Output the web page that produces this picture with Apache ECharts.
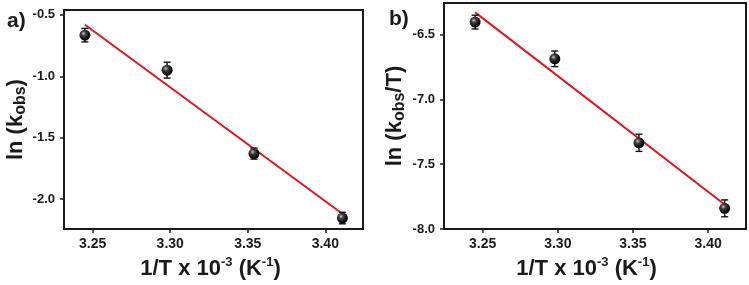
<!DOCTYPE html>
<html>
<head>
<meta charset="utf-8">
<script src="https://cdn.jsdelivr.net/npm/echarts@6/dist/echarts.min.js"></script>
<style>
html, body { margin: 0; padding: 0; background: #fff; }
#chart { width: 749px; height: 285px; }
</style>
</head>
<body>
<div id="chart"></div>
<script>
// 1/T x 10^-3 for the four temperatures
var invT = [3.245, 3.298, 3.354, 3.411];
// panel a: ln(kobs) with error
var lnK = [-0.665, -0.95, -1.63, -2.155];
var lnKErr = [0.055, 0.065, 0.045, 0.047];
// panel b: ln(kobs/T) with error
var lnKT = [-6.405, -6.688, -7.335, -7.84];
var lnKTErr = [0.053, 0.06, 0.066, 0.065];
// fitted lines (end points)
var fitA = [[3.245, -0.58], [3.411, -2.12]];
var fitB = [[3.245, -6.33], [3.411, -7.81]];
// tick labels
var xTicks = [3.25, 3.30, 3.35, 3.40];
var yTicksA = [-2.0, -1.5, -1.0, -0.5];
var yTicksB = [-8.0, -7.5, -7.0, -6.5];

var FONT = "'Liberation Sans', Arial, sans-serif";
var INK = '#1a1a1a';

function points(ys) {
    return invT.map(function(x, i) { return [x, ys[i]]; });
}
function bars(ys, errs) {
    return invT.map(function(x, i) { return [x, ys[i] - errs[i], ys[i] + errs[i]]; });
}

function renderErr(params, api) {
    var x = api.value(0);
    var top = api.coord([x, api.value(2)]);
    var bot = api.coord([x, api.value(1)]);
    var w = 3.5;
    var s = {stroke: '#111', lineWidth: 1.4};
    return {
        type: 'group',
        children: [
            {type: 'line', shape: {x1: top[0], y1: top[1], x2: bot[0], y2: bot[1]}, style: s},
            {type: 'line', shape: {x1: top[0] - w, y1: top[1], x2: top[0] + w, y2: top[1]}, style: s},
            {type: 'line', shape: {x1: bot[0] - w, y1: bot[1], x2: bot[0] + w, y2: bot[1]}, style: s}
        ]
    };
}

var ball = new echarts.graphic.RadialGradient(0.38, 0.35, 0.6, [
    {offset: 0, color: '#c8c8c8'},
    {offset: 0.35, color: '#404040'},
    {offset: 1, color: '#000'}
]);

var rich = {
    m: {fontSize: 22, fontWeight: 'bold', fontFamily: FONT, color: INK, lineHeight: 26},
    s: {fontSize: 13, fontWeight: 'bold', fontFamily: FONT, color: INK, verticalAlign: 'top', lineHeight: 13},
    b: {fontSize: 16, fontWeight: 'bold', fontFamily: FONT, color: INK, verticalAlign: 'bottom', lineHeight: 16}
};
var xName = '{m|1/T x 10}{s|-3}{m| (K}{s|-1}{m|)}';

function xAxis(idx, min, max, gap, pad) {
    return {
        type: 'value', gridIndex: idx, min: min, max: max,
        name: xName, nameLocation: 'middle', nameGap: gap,
        nameTextStyle: {rich: rich, padding: pad},
        splitLine: {show: false},
        axisLine: {lineStyle: {color: INK, width: 2}},
        axisTick: {customValues: xTicks, length: 4, lineStyle: {color: INK, width: 1.5}},
        axisLabel: {
            customValues: xTicks, margin: 8, color: INK, fontSize: 14, fontWeight: 'bold', fontFamily: FONT,
            formatter: function(v) { return v.toFixed(2); }
        }
    };
}
function yAxis(idx, min, max, ticks, name, gap) {
    return {
        type: 'value', gridIndex: idx, min: min, max: max,
        name: name, nameLocation: 'middle', nameGap: gap, nameRotate: 90,
        nameTextStyle: {rich: rich},
        splitLine: {show: false},
        axisLine: {lineStyle: {color: INK, width: 2}},
        axisTick: {customValues: ticks, length: 4, lineStyle: {color: INK, width: 1.5}},
        axisLabel: {
            customValues: ticks, margin: 9, color: INK, fontSize: 13, fontWeight: 'bold', fontFamily: FONT,
            formatter: function(v) { return v.toFixed(1); }
        }
    };
}

var chart = echarts.init(document.getElementById('chart'));
var chartOptions = {
    animation: false,
    title: [
        {text: 'a)', left: 2, top: 6, textStyle: {fontSize: 21, fontWeight: 'bold', fontFamily: FONT, color: INK}},
        {text: 'b)', left: 384, top: 4, textStyle: {fontSize: 21, fontWeight: 'bold', fontFamily: FONT, color: INK}}
    ],
    grid: [
        {left: 64, top: 10, width: 299, height: 226, show: true, borderColor: INK, borderWidth: 2},
        {left: 444, top: 3, width: 302, height: 229, show: true, borderColor: INK, borderWidth: 2}
    ],
    xAxis: [
        xAxis(0, 3.2315, 3.4243, 21, [0, 6, 0, 0]),
        xAxis(1, 3.2243, 3.4252, 23, [0, 17, 0, 0])
    ],
    yAxis: [
        yAxis(0, -2.245, -0.46, yTicksA, '{m|ln (k}{b|obs}{m|)}', 33),
        yAxis(1, -8.0, -6.258, yTicksB, '{m|ln (k}{b|obs}{m|/T)}', 36)
    ],
    series: [
        {type: 'line', xAxisIndex: 0, yAxisIndex: 0, data: fitA, symbol: 'none', z: 1,
            lineStyle: {color: '#e3141b', width: 2}},
        {type: 'line', xAxisIndex: 1, yAxisIndex: 1, data: fitB, symbol: 'none', z: 1,
            lineStyle: {color: '#e3141b', width: 2}},
        {type: 'custom', xAxisIndex: 0, yAxisIndex: 0, data: bars(lnK, lnKErr), renderItem: renderErr, z: 2},
        {type: 'custom', xAxisIndex: 1, yAxisIndex: 1, data: bars(lnKT, lnKTErr), renderItem: renderErr, z: 2},
        {type: 'scatter', xAxisIndex: 0, yAxisIndex: 0, data: points(lnK), symbolSize: 11, z: 3,
            itemStyle: {color: ball, opacity: 1}},
        {type: 'scatter', xAxisIndex: 1, yAxisIndex: 1, data: points(lnKT), symbolSize: 11, z: 3,
            itemStyle: {color: ball, opacity: 1}}
    ]
};
chart.setOption(chartOptions);
</script>
</body>
</html>
